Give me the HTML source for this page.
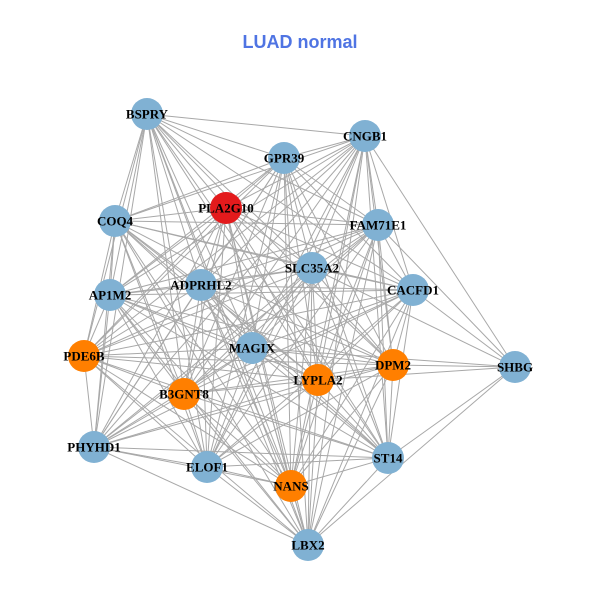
<!DOCTYPE html>
<html><head><meta charset="utf-8"><style>
html,body{margin:0;padding:0;background:#fff;}
svg{display:block}
text.l{font-family:"Liberation Serif",serif;font-weight:bold;font-size:13px;fill:#000;text-anchor:middle;dominant-baseline:central}
</style></head><body>
<svg id="s" width="600" height="600" viewBox="0 0 600 600">
<rect width="600" height="600" fill="#fff"/>
<text x="300" y="48" text-anchor="middle" font-family="Liberation Sans,sans-serif" font-weight="bold" font-size="18" fill="#4f74e3">LUAD normal</text>
<g id="e" stroke="#a8a8a8" stroke-width="1"></g>
<g id="n"></g>
<g>
<text class="l" x="147" y="114">BSPRY</text>
<text class="l" x="365" y="136">CNGB1</text>
<text class="l" x="284" y="158">GPR39</text>
<text class="l" x="226" y="208">PLA2G10</text>
<text class="l" x="115" y="221">COQ4</text>
<text class="l" x="378" y="225">FAM71E1</text>
<text class="l" x="312" y="268">SLC35A2</text>
<text class="l" x="201" y="285">ADPRHL2</text>
<text class="l" x="413" y="290">CACFD1</text>
<text class="l" x="110" y="295">AP1M2</text>
<text class="l" x="252" y="348">MAGIX</text>
<text class="l" x="84" y="356">PDE6B</text>
<text class="l" x="393" y="365">DPM2</text>
<text class="l" x="318" y="380">LYPLA2</text>
<text class="l" x="515" y="367">SHBG</text>
<text class="l" x="184" y="394">B3GNT8</text>
<text class="l" x="94" y="447">PHYHD1</text>
<text class="l" x="207" y="467">ELOF1</text>
<text class="l" x="388" y="458">ST14</text>
<text class="l" x="291" y="486">NANS</text>
<text class="l" x="308" y="545">LBX2</text>
</g>
</svg>
<script>
var N=[[147,114,0],[365,136,0],[284,158,0],[226,208,2],[115,221,0],[378,225,0],[312,268,0],[201,285,0],[413,290,0],[110,295,0],[252,348,0],[84,356,1],[393,365,1],[318,380,1],[515,367,0],[184,394,1],[94,447,0],[207,467,0],[388,458,0],[291,486,1],[308,545,0]];
var C=["#80b1d3","#ff7f00","#e31a1c"];
var ns="http://www.w3.org/2000/svg",e=document.getElementById("e"),n=document.getElementById("n");
var shbg=[1,5,8,12,13,18,20,10,6];
for(var i=0;i<N.length;i++)for(var j=i+1;j<N.length;j++){
 if((i==14&&shbg.indexOf(j)<0)||(j==14&&shbg.indexOf(i)<0))continue;
 var l=document.createElementNS(ns,"line");
 l.setAttribute("x1",N[i][0]);l.setAttribute("y1",N[i][1]);l.setAttribute("x2",N[j][0]);l.setAttribute("y2",N[j][1]);e.appendChild(l);}
N.forEach(function(p){var c=document.createElementNS(ns,"circle");c.setAttribute("cx",p[0]);c.setAttribute("cy",p[1]);c.setAttribute("r",16);c.setAttribute("fill",C[p[2]]);n.appendChild(c);});
</script>
</body></html>
